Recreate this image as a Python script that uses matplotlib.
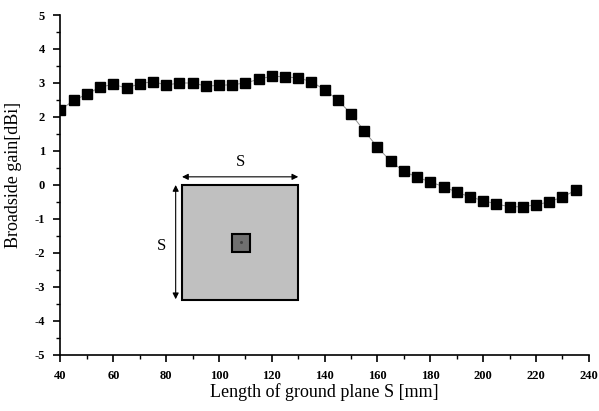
import matplotlib
matplotlib.use("Agg")
import matplotlib.pyplot as plt
from matplotlib.patches import Rectangle
from matplotlib.ticker import MultipleLocator

plt.rcParams['font.family'] = ['Liberation Serif', 'DejaVu Serif']
plt.rcParams['axes.unicode_minus'] = False

length_mm = [40, 45, 50, 55, 60, 65, 70, 75, 80, 85, 90, 95, 100, 105, 110, 115,
             120, 125, 130, 135, 140, 145, 150, 155, 160, 165, 170, 175, 180, 185,
             190, 195, 200, 205, 210, 215, 220, 225, 230, 235]
gain_dbi = [2.21, 2.49, 2.67, 2.88, 2.96, 2.85, 2.98, 3.04, 2.94, 3.00, 3.00, 2.91,
            2.93, 2.95, 3.00, 3.11, 3.20, 3.18, 3.15, 3.04, 2.80, 2.50, 2.09, 1.59,
            1.11, 0.70, 0.40, 0.23, 0.09, -0.05, -0.21, -0.35, -0.46, -0.56, -0.64,
            -0.64, -0.58, -0.50, -0.35, -0.16]
x_ticks = [40, 60, 80, 100, 120, 140, 160, 180, 200, 220, 240]
y_ticks = [-5, -4, -3, -2, -1, 0, 1, 2, 3, 4, 5]

fig = plt.figure(figsize=(5.99, 4.11), dpi=100)
ax = fig.add_axes([0.101, 0.1363, 0.882, 0.8272])

ax.plot(length_mm, gain_dbi, color='#909090', lw=0.7, marker='s', ms=6.5,
        mfc='black', mec='black', zorder=3)

ax.set_xlim(40, 240)
ax.set_ylim(-5, 5)
ax.set_xticks(x_ticks)
ax.set_yticks(y_ticks)
ax.xaxis.set_minor_locator(MultipleLocator(10))
ax.yaxis.set_minor_locator(MultipleLocator(0.5))
for s in ['top', 'right']:
    ax.spines[s].set_visible(False)
for s in ['left', 'bottom']:
    ax.spines[s].set_linewidth(1.2)
ax.tick_params(which='major', direction='out', length=5, width=1.2, labelsize=9, pad=6)
ax.tick_params(which='minor', direction='out', length=3, width=1.0)
for lab in ax.get_xticklabels() + ax.get_yticklabels():
    lab.set_fontweight('bold')

ax.set_xlabel('Length of ground plane S [mm]', fontsize=13, va='top')
ax.xaxis.set_label_coords(0.5, -0.083)
ax.set_ylabel('Broadside gain[dBi]', fontsize=13)
ax.yaxis.set_label_coords(-0.072, 0.53)

# inset diagram of ground plane
T = ax.transAxes
x0, x1 = 0.230, 0.450
y0, y1 = 0.161, 0.500
ax.add_patch(Rectangle((x0, y0), x1 - x0, y1 - y0, transform=T,
                       facecolor='#c0c0c0', edgecolor='black', lw=1.5, zorder=2))
ax.add_patch(Rectangle((0.324, 0.304), 0.035, 0.053, transform=T,
                       facecolor='#707070', edgecolor='black', lw=1.5, zorder=2))
ax.plot([0.3415], [0.3325], transform=T, marker='o', ms=1.2, color='#444444', zorder=3)
ax.annotate('', xy=(x1, 0.524), xytext=(x0, 0.524), xycoords=T, textcoords=T,
            arrowprops=dict(arrowstyle='<|-|>', color='black', lw=0.8,
                            shrinkA=0, shrinkB=0, mutation_scale=9))
ax.annotate('', xy=(0.218, y0 + 0.003), xytext=(0.218, y1), xycoords=T, textcoords=T,
            arrowprops=dict(arrowstyle='<|-|>', color='black', lw=0.8,
                            shrinkA=0, shrinkB=0, mutation_scale=9))
ax.text((x0 + x1) / 2, 0.545, 'S', transform=T, ha='center', va='bottom', fontsize=12)
ax.text(0.200, 0.322, 'S', transform=T, ha='right', va='center', fontsize=12)

fig.savefig('out.png', dpi=100)
